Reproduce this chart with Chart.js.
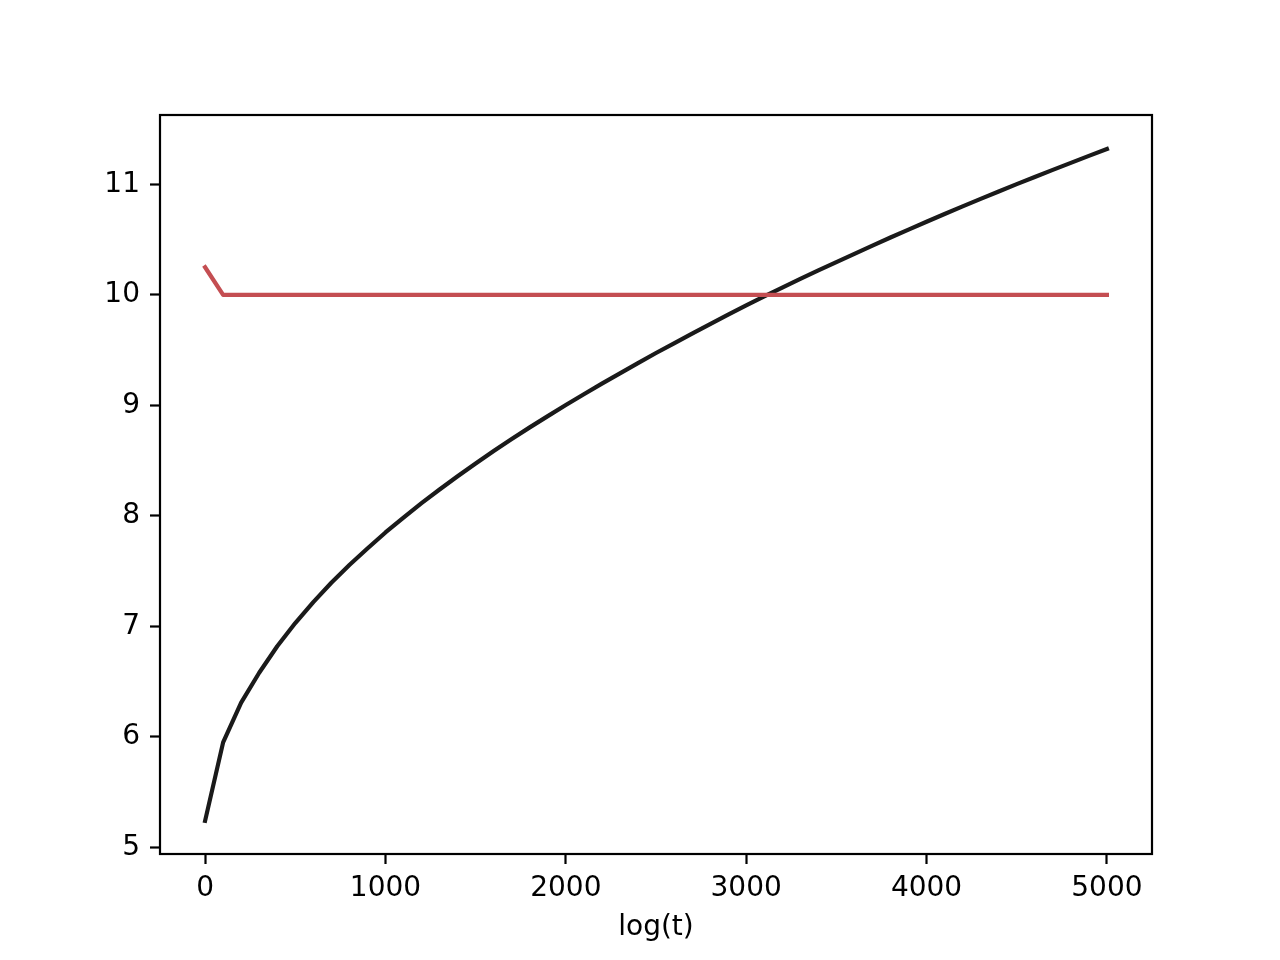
<!DOCTYPE html>
<html>
<head>
<meta charset="utf-8">
<script src="https://cdn.jsdelivr.net/npm/chart.js@4"></script>
<style>
  html, body { margin: 0; padding: 0; background: #ffffff; }
  #wrap { width: 1280px; height: 960px; }
</style>
</head>
<body>
<div id="wrap"><canvas id="c" width="1280" height="960"></canvas></div>
<script>
// ---- data ----
const tValues = [0, 100, 200, 300, 400, 500, 600, 700, 800, 900,
  1000, 1100, 1200, 1300, 1400, 1500, 1600, 1700, 1800, 1900,
  2000, 2100, 2200, 2300, 2400, 2500, 2600, 2700, 2800, 2900,
  3000, 3100, 3200, 3300, 3400, 3500, 3600, 3700, 3800, 3900,
  4000, 4100, 4200, 4300, 4400, 4500, 4600, 4700, 4800, 4900, 5000];
const blackValues = [5.24, 5.95, 6.31, 6.58, 6.82, 7.03, 7.22, 7.395, 7.555, 7.705,
  7.85, 7.985, 8.115, 8.239, 8.359, 8.474, 8.587, 8.695, 8.801, 8.903,
  9.004, 9.101, 9.197, 9.290, 9.382, 9.474, 9.562, 9.650, 9.736, 9.821,
  9.905, 9.987, 10.066, 10.144, 10.221, 10.297, 10.372, 10.446, 10.519, 10.591,
  10.662, 10.732, 10.801, 10.869, 10.936, 11.002, 11.067, 11.131, 11.195, 11.258, 11.32];
const redT = [0, 100, 5000];
const redValues = [10.25, 10.0, 10.0];
const xTicks = [0, 1000, 2000, 3000, 4000, 5000];
const yTicks = [5, 6, 7, 8, 9, 10, 11];
const xLabel = 'log(t)';

// ---- build chart ----
const blackData = tValues.map((t, i) => ({x: t, y: blackValues[i]}));
const redData = redT.map((t, i) => ({x: t, y: redValues[i]}));

const FONT = "'DejaVu Sans', sans-serif";

const framePlugin = {
  id: 'frame',
  afterDatasetsDraw(chart) {
    const {ctx, chartArea: a} = chart;
    ctx.save();
    ctx.strokeStyle = '#000000';
    ctx.lineWidth = 2.2;
    ctx.strokeRect(a.left, a.top, a.right - a.left, a.bottom - a.top);
    ctx.restore();
  }
};
const bgPlugin = {
  id: 'bg',
  beforeDraw(chart) {
    const ctx = chart.ctx;
    ctx.save();
    ctx.fillStyle = '#ffffff';
    ctx.fillRect(0, 0, chart.width, chart.height);
    ctx.restore();
  }
};

const tickGrid = {
  drawOnChartArea: false,
  drawTicks: true,
  tickLength: 10,
  tickWidth: 2.2,
  tickColor: '#000000'
};

new Chart(document.getElementById('c'), {
  type: 'line',
  data: {
    datasets: [
      {
        data: redData,
        borderColor: '#c44e52',
        borderWidth: 4.2,
        pointRadius: 0,
        tension: 0,
        fill: false,
        borderCapStyle: 'square',
        borderJoinStyle: 'round'
      },
      {
        data: blackData,
        borderColor: '#1a1a1a',
        borderWidth: 4.2,
        pointRadius: 0,
        tension: 0,
        fill: false,
        borderCapStyle: 'square',
        borderJoinStyle: 'round'
      }
    ]
  },
  options: {
    responsive: false,
    animation: false,
    events: [],
    layout: { padding: { left: 0, top: 115, right: 128, bottom: 0 } },
    plugins: { legend: { display: false }, tooltip: { enabled: false } },
    scales: {
      x: {
        type: 'linear',
        min: -250,
        max: 5250,
        afterFit(scale) { scale.height = 106; },
        afterBuildTicks(scale) { scale.ticks = xTicks.map(v => ({value: v})); },
        border: { display: false },
        grid: tickGrid,
        ticks: {
          maxRotation: 0,
          autoSkip: false,
          padding: 8,
          color: '#000000',
          font: { family: FONT, size: 28 },
          callback: (v) => String(v)
        },
        title: {
          display: true,
          text: xLabel,
          color: '#000000',
          font: { family: FONT, size: 28, lineHeight: 1.2 },
          padding: { top: 4, bottom: 15 }
        }
      },
      y: {
        type: 'linear',
        min: 4.94,
        max: 11.628,
        afterFit(scale) { scale.width = 160; },
        afterBuildTicks(scale) { scale.ticks = yTicks.map(v => ({value: v})); },
        border: { display: false },
        grid: tickGrid,
        ticks: {
          autoSkip: false,
          padding: 10,
          color: '#000000',
          font: { family: FONT, size: 28 },
          callback: (v) => String(v)
        }
      }
    }
  },
  plugins: [bgPlugin, framePlugin]
});
</script>
</body>
</html>
